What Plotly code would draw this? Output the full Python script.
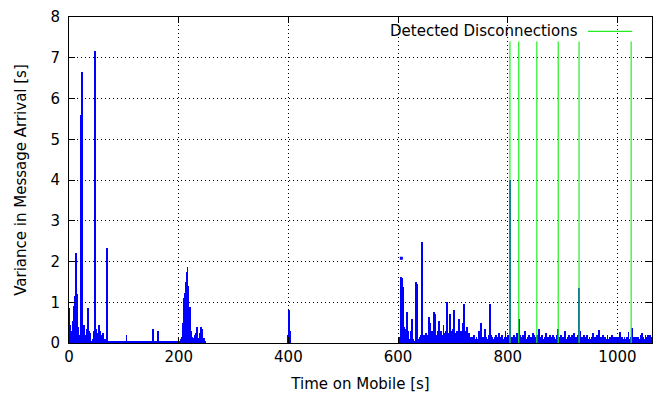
import plotly.graph_objects as go

# ---------------- data ----------------
# segment 1: 0-69 s, dense spikes
seg1_t = list(range(0, 70))
seg1_v = [0.3, 0.85, 0.45, 0.2, 0.25, 0.2, 0.3, 0.25, 0.55, 0.9,
          1.1, 1.15, 0.7, 2.2, 1.2, 0.5, 0.4, 0.15, 0.1, 0.1,
          0.2, 0.3, 5.6, 6.65, 5.4, 0.4, 0.25, 0.3, 0.45, 0.2,
          0.15, 0.2, 0.35, 0.25, 0.4, 0.85, 0.3, 0.2, 0.25, 0.1,
          0.05, 0.05, 0.05, 0.1, 0.1, 0.2, 0.3, 0.6, 7.17, 0.35,
          0.3, 0.2, 0.25, 0.15, 0.2, 0.45, 0.3, 0.2, 0.15, 0.1,
          0.2, 0.15, 0.25, 0.15, 0.1, 0.05, 0.05, 0.05, 0.1, 2.32]

# segment 2: 71-203 s, quiet baseline
seg2_t = [71, 73, 75, 77, 79, 81, 83, 85, 87, 89, 91, 93, 95, 97, 99,
          101, 103, 105, 107, 109, 111, 113, 115, 117, 119, 121, 123, 125,
          127, 129, 131, 133, 135, 137, 139, 141, 143, 145, 147, 149, 151,
          153, 155, 157, 159, 161, 163, 165, 167, 169, 171, 173, 175, 177,
          179, 181, 183, 185, 187, 189, 191, 193, 195, 197, 199, 201, 203]
seg2_v = [0.04, 0.03, 0.04, 0.04, 0.03, 0.04, 0.04, 0.03, 0.04, 0.04,
          0.03, 0.04, 0.04, 0.03, 0.04, 0.04, 0.03, 0.2, 0.04, 0.03,
          0.04, 0.04, 0.03, 0.04, 0.04, 0.03, 0.06, 0.04, 0.03, 0.04,
          0.04, 0.03, 0.04, 0.04, 0.03, 0.04, 0.04, 0.03, 0.04, 0.04,
          0.03, 0.34, 0.04, 0.03, 0.04, 0.04, 0.3, 0.04, 0.03, 0.04,
          0.04, 0.03, 0.04, 0.04, 0.03, 0.04, 0.04, 0.03, 0.04, 0.04,
          0.03, 0.04, 0.04, 0.03, 0.04, 0.04, 0.05]

# segment 3: 204-248 s cluster
seg3_t = list(range(204, 249))
seg3_v = [0.1, 0.15, 0.1, 0.3, 0.5, 0.9, 1.1, 1.22, 0.8, 1.0,
          1.5, 1.75, 1.87, 1.4, 0.9, 0.7, 0.88, 0.5, 0.3, 0.2,
          0.15, 0.12, 0.1, 0.1, 0.12, 0.15, 0.2, 0.25, 0.2, 0.4,
          0.2, 0.12, 0.1, 0.12, 0.15, 0.25, 0.3, 0.4, 0.35, 0.2,
          0.12, 0.1, 0.12, 0.1, 0.05]

# segment 4: around 400 s
seg4_t = [399, 400, 401, 402, 403, 404]
seg4_v = [0.15, 0.2, 0.8, 0.75, 0.3, 0.2]

# segment 5: 604-1063 s
seg5_t = [604, 605, 606, 607, 608, 609, 610, 611, 612, 613, 614, 615, 616,
          617, 618, 619, 620, 622, 624, 625, 626, 628, 630, 632, 633, 634,
          635, 637, 639, 641, 643, 644, 645, 647, 649, 651, 653, 655, 657,
          658, 660, 662, 664, 666, 667, 669, 671, 673, 675, 677, 679, 681,
          683, 685, 687, 689, 690, 692, 694, 696, 698, 700, 702, 703, 705,
          707, 709, 711, 713, 715, 717, 719, 720, 721, 723, 725, 727, 729,
          731, 733, 735, 737, 739, 741, 743, 745, 747, 749, 751, 753, 755,
          757, 759, 761, 763, 765, 767, 768, 770, 772, 774, 776, 778, 780,
          782, 784, 786, 788, 790, 792, 794, 796, 798, 800, 802, 804, 805,
          807, 809, 811, 813, 815, 817, 819, 820, 822, 824, 826, 828, 830,
          832, 834, 836, 838, 840, 842, 844, 846, 848, 850, 852, 853, 855,
          857, 859, 861, 863, 865, 867, 869, 871, 873, 875, 877, 879, 881,
          883, 885, 887, 889, 891, 893, 895, 897, 899, 901, 903, 905, 907,
          909, 911, 913, 915, 917, 919, 921, 923, 925, 927, 929, 930, 931,
          933, 935, 937, 939, 941, 943, 945, 947, 949, 951, 953, 955, 957,
          959, 961, 963, 966, 968, 970, 972, 974, 976, 978, 980, 982, 984,
          986, 988, 990, 992, 994, 996, 998, 1000, 1002, 1005, 1007, 1009,
          1011, 1013, 1015, 1017, 1020, 1022, 1024, 1026, 1028, 1030, 1032,
          1034, 1036, 1038, 1040, 1042, 1045, 1047, 1049, 1051, 1053, 1055,
          1057, 1059, 1061, 1063]
seg5_v = [0.15, 0.3, 1.63, 1.6, 0.35, 0.3, 1.37, 0.4, 0.3, 0.35, 0.3, 0.25, 0.3,
          0.76, 0.3, 0.25, 0.1, 0.05, 0.3, 0.6, 0.15, 0.1, 0.05, 0.3, 1.5, 1.45,
          0.3, 0.1, 0.15, 0.2, 2.49, 2.4, 0.2, 0.15, 0.2, 0.25, 0.15, 0.2, 0.63,
          0.5, 0.15, 0.3, 0.2, 0.75, 0.7, 0.2, 0.15, 0.3, 0.55, 0.25, 0.3, 0.2,
          0.45, 0.25, 0.3, 1.0, 0.6, 0.25, 0.7, 0.3, 0.25, 0.35, 0.8, 0.5, 0.25,
          0.3, 0.25, 0.6, 0.25, 0.3, 0.25, 0.5, 0.95, 0.7, 0.3, 0.4, 0.2, 0.25,
          0.15, 0.1, 0.15, 0.1, 0.2, 0.1, 0.15, 0.1, 0.3, 0.15, 0.5, 0.15, 0.1,
          0.15, 0.35, 0.15, 0.1, 0.2, 0.95, 0.6, 0.2, 0.15, 0.1, 0.15, 0.2, 0.1,
          0.15, 0.25, 0.1, 0.15, 0.2, 0.1, 0.15, 0.3, 0.15, 0.2, 0.1, 4.0, 0.3,
          0.15, 0.1, 0.2, 0.15, 0.1, 0.25, 0.15, 0.6, 0.2, 0.15, 0.1, 0.2, 0.15,
          0.3, 0.1, 0.15, 0.2, 0.15, 0.1, 0.15, 0.25, 0.2, 0.1, 0.15, 0.2, 0.15,
          0.35, 0.1, 0.15, 0.2, 0.1, 0.15, 0.25, 0.15, 0.1, 0.15, 0.2, 0.15, 0.1,
          0.2, 0.15, 0.1, 0.2, 0.35, 0.15, 0.1, 0.2, 0.15, 0.1, 0.15, 0.3, 0.1,
          0.15, 0.2, 0.15, 0.1, 0.2, 0.15, 0.25, 0.1, 0.15, 0.2, 0.3, 1.35, 0.3,
          0.15, 0.1, 0.15, 0.2, 0.1, 0.15, 0.2, 0.1, 0.15, 0.1, 0.15, 0.24, 0.1,
          0.15, 0.1, 0.2, 0.32, 0.1, 0.15, 0.1, 0.2, 0.1, 0.15, 0.1, 0.2, 0.1,
          0.15, 0.1, 0.2, 0.1, 0.15, 0.1, 0.15, 0.1, 0.15, 0.28, 0.1, 0.15,
          0.1, 0.15, 0.1, 0.15, 0.28, 0.1, 0.15, 0.36, 0.1, 0.15, 0.1,
          0.15, 0.1, 0.15, 0.1, 0.2, 0.25, 0.15, 0.1, 0.2, 0.15, 0.2,
          0.15, 0.2, 0.15, 0.1]

# isolated single samples above a spike
dot_t = [606]
dot_v = [2.08]

# detected disconnections (time in s) and the height they are drawn to
disc_t = [804, 820, 853, 892, 930, 1025]
disc_height = 7.4

x_ticks = [0, 200, 400, 600, 800, 1000]
y_ticks = [0, 1, 2, 3, 4, 5, 6, 7, 8]

# ---------------- figure ----------------
time_s = seg1_t + seg2_t + seg3_t + seg4_t + seg5_t
var_s = seg1_v + seg2_v + seg3_v + seg4_v + seg5_v

BLUE = "#0000ff"
GREEN = "#22ee22"
FONT = "DejaVu Sans"
FS = 15

fig = go.Figure()
fig.add_trace(go.Bar(x=time_s, y=var_s, width=1.5,
                     marker=dict(color=BLUE, line=dict(width=0)),
                     showlegend=False, hoverinfo="skip"))
fig.add_trace(go.Scatter(x=dot_t, y=dot_v, mode="markers",
                         marker=dict(color=BLUE, size=3, symbol="square"),
                         showlegend=False, hoverinfo="skip"))

dx, dy = [], []
for t in disc_t:
    dx += [t, t, None]
    dy += [0, disc_height, None]
fig.add_trace(go.Scatter(x=dx, y=dy, mode="lines",
                         line=dict(color=GREEN, width=1.2),
                         showlegend=False, hoverinfo="skip"))

# key (gnuplot style: text then sample line)
fig.add_annotation(xref="paper", yref="paper", x=0.876, y=0.956,
                   xanchor="right", yanchor="middle", showarrow=False,
                   text="Detected Disconnections",
                   font=dict(family=FONT, size=FS, color="black"))
fig.add_shape(type="line", xref="paper", yref="paper",
              x0=0.89, x1=0.966, y0=0.956, y1=0.956,
              line=dict(color=GREEN, width=1.2))

axis_common = dict(
    showline=True, linecolor="black", linewidth=1, mirror="ticks",
    ticks="inside", ticklen=6, tickcolor="black", tickwidth=1,
    showgrid=True, gridcolor="black", gridwidth=1, griddash="1px,3px",
    zeroline=False, automargin=False, ticklabeloverflow="allow",
    tickfont=dict(family=FONT, size=FS, color="black"),
)

# the page places the figure 8px from the top-left corner
fig.update_layout(
    width=654, height=388, autosize=False,
    margin=dict(l=61, r=10, t=9, b=53),
    paper_bgcolor="white", plot_bgcolor="white",
    font=dict(family=FONT, size=FS, color="black"),
    bargap=0, hovermode=False,
    xaxis=dict(range=[0, 1063], tickvals=x_ticks,
               title=dict(text="Time on Mobile [s]", standoff=13,
                          font=dict(family=FONT, size=FS)),
               **axis_common),
    yaxis=dict(range=[0, 8], tickvals=y_ticks, ticklabelstandoff=5,
               title=dict(text="Variance in Message Arrival [s]", standoff=20,
                          font=dict(family=FONT, size=FS)),
               **axis_common),
)

fig.write_html("out.html")
